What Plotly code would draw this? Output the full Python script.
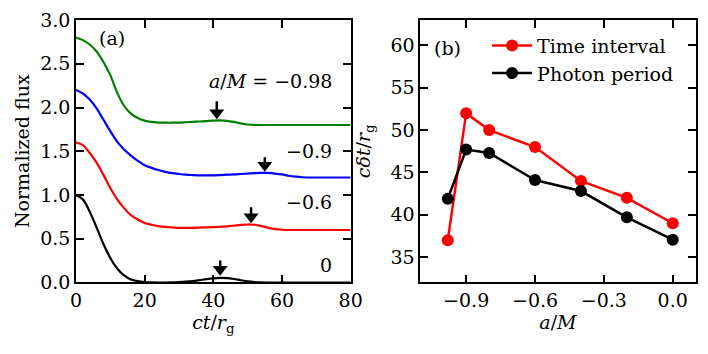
import plotly.graph_objects as go

# ---------------- data ----------------
t = [0, 2, 4, 6, 8, 10, 12, 14, 16, 18, 20, 22, 24, 26, 28, 30, 32, 34, 36, 38, 40,
     42, 44, 46, 48, 50, 52, 54, 56, 58, 60, 62, 64, 66, 68, 70, 72, 74, 76, 78, 80]

flux_a0 = [1.00, 0.95, 0.81, 0.63, 0.44, 0.28, 0.16, 0.08, 0.035, 0.015, 0.005, 0.001, 0.0, 0.0,
           0.002, 0.005, 0.010, 0.017, 0.027, 0.038, 0.047, 0.052, 0.050, 0.040, 0.026, 0.013,
           0.005, 0.001, 0.0, 0.0, 0.0, 0.0, 0.0, 0.0, 0.0, 0.0, 0.0, 0.0, 0.0, 0.0, 0.0]
flux_a06 = [1.60, 1.57, 1.48, 1.37, 1.23, 1.08, 0.95, 0.85, 0.77, 0.72, 0.68, 0.66, 0.645, 0.635,
            0.63, 0.625, 0.625, 0.625, 0.628, 0.63, 0.633, 0.637, 0.642, 0.650, 0.658, 0.663,
            0.660, 0.645, 0.625, 0.61, 0.603, 0.60, 0.60, 0.60, 0.60, 0.60, 0.60, 0.60, 0.60, 0.60, 0.60]
flux_a09 = [2.20, 2.16, 2.09, 1.99, 1.86, 1.73, 1.61, 1.52, 1.45, 1.39, 1.34, 1.31, 1.285, 1.265,
            1.25, 1.24, 1.232, 1.228, 1.225, 1.225, 1.225, 1.228, 1.232, 1.235, 1.24, 1.245,
            1.25, 1.253, 1.252, 1.245, 1.235, 1.22, 1.21, 1.203, 1.20, 1.20, 1.20, 1.20, 1.20, 1.20, 1.20]
flux_a098 = [2.80, 2.77, 2.72, 2.64, 2.52, 2.37, 2.17, 2.02, 1.93, 1.88, 1.85, 1.835, 1.828, 1.826,
             1.826, 1.828, 1.832, 1.836, 1.84, 1.845, 1.85, 1.852, 1.848, 1.835, 1.818, 1.806,
             1.801, 1.80, 1.80, 1.80, 1.80, 1.80, 1.80, 1.80, 1.80, 1.80, 1.80, 1.80, 1.80, 1.80, 1.80]

# arrows: x, head-centre y, tail y
arrow_x = [41, 55, 51, 42]
arrow_head = [1.94, 1.34, 0.75, 0.15]
arrow_tail = [2.07, 1.43, 0.86, 0.25]

curve_labels = ["<i>a</i>/<i>M</i> = \u22120.98", "\u22120.9", "\u22120.6", "0"]
curve_label_y = [2.30, 1.50, 0.92, 0.195]

spin = [-0.98, -0.9, -0.8, -0.6, -0.4, -0.2, 0.0]
time_interval = [37.0, 52.0, 50.0, 48.0, 44.0, 42.0, 39.0]
photon_period = [41.9, 47.7, 47.3, 44.1, 42.8, 39.7, 37.05]

left_yticks = [0.0, 0.5, 1.0, 1.5, 2.0, 2.5, 3.0]
left_xticks = [0, 20, 40, 60, 80]
right_xticks = [-0.9, -0.6, -0.3, 0.0]
right_xticktext = ["\u22120.9", "\u22120.6", "\u22120.3", "0.0"]
right_yticks = [35, 40, 45, 50, 55, 60]

FONT = "DejaVu Serif"
FS = 19

fig = go.Figure()

for y, c in [(flux_a0, "black"), (flux_a06, "red"), (flux_a09, "blue"), (flux_a098, "green")]:
    fig.add_trace(go.Scatter(x=t, y=y, mode="lines", line=dict(color=c, width=2.2, shape="spline"),
                             showlegend=False, xaxis="x", yaxis="y", hoverinfo="skip"))

# arrow stems and heads
stem_x, stem_y = [], []
for ax_, hd, tl in zip(arrow_x, arrow_head, arrow_tail):
    stem_x += [ax_, ax_, None]
    stem_y += [tl, hd, None]
fig.add_trace(go.Scatter(x=stem_x, y=stem_y, mode="lines", line=dict(color="black", width=2.5),
                         showlegend=False, xaxis="x", yaxis="y", hoverinfo="skip"))
fig.add_trace(go.Scatter(x=arrow_x, y=arrow_head, mode="markers",
                         marker=dict(symbol="triangle-down", size=13, color="black"),
                         showlegend=False, xaxis="x", yaxis="y", hoverinfo="skip"))

fig.add_trace(go.Scatter(x=spin, y=time_interval, mode="lines+markers", name="Time interval",
                         line=dict(color="red", width=2.5), marker=dict(color="red", size=12),
                         xaxis="x2", yaxis="y2"))
fig.add_trace(go.Scatter(x=spin, y=photon_period, mode="lines+markers", name="Photon period",
                         line=dict(color="black", width=2.5), marker=dict(color="black", size=12),
                         xaxis="x2", yaxis="y2"))

annotations = []
for lab, ly in zip(curve_labels, curve_label_y):
    annotations.append(dict(x=75, y=ly, xref="x", yref="y", text=lab, showarrow=False,
                            xanchor="right", yanchor="middle",
                            font=dict(family=FONT, size=FS, color="black")))
annotations.append(dict(x=6, y=2.80, xref="x", yref="y", text="(a)", showarrow=False,
                        xanchor="left", yanchor="middle", font=dict(family=FONT, size=FS, color="black")))
annotations.append(dict(x=-1.05, y=59.7, xref="x2", yref="y2", text="(b)", showarrow=False,
                        xanchor="left", yanchor="middle", font=dict(family=FONT, size=FS, color="black")))

axis_common = dict(showline=True, linecolor="black", linewidth=1.5, mirror="allticks",
                   ticks="inside", ticklen=8, tickwidth=1.5, tickcolor="black",
                   showgrid=False, zeroline=False, automargin=False,
                   tickfont=dict(family=FONT, size=FS, color="black"))

fig.update_layout(
    width=708, height=354,
    margin=dict(l=0, r=0, t=0, b=0),
    paper_bgcolor="white", plot_bgcolor="white",
    font=dict(family=FONT, size=FS, color="black"),
    xaxis=dict(domain=[0.1073, 0.4953], range=[0, 80], tickvals=left_xticks,
               title=dict(text="<i>ct</i>/<i>r</i><sub>g</sub>", standoff=6,
                          font=dict(family=FONT, size=FS)), anchor="y", **axis_common),
    yaxis=dict(domain=[0.202, 0.9435], range=[0, 3], tickvals=left_yticks, tickformat=".1f",
               title=dict(text="Normalized flux", standoff=6, font=dict(family=FONT, size=FS)),
               anchor="x", **axis_common),
    xaxis2=dict(domain=[0.5936, 0.9826], range=[-1.1, 0.1], tickvals=right_xticks,
                ticktext=right_xticktext,
                title=dict(text="<i>a</i>/<i>M</i>", standoff=6, font=dict(family=FONT, size=FS)),
                anchor="y2", **axis_common),
    yaxis2=dict(domain=[0.202, 0.9435], range=[32, 63], tickvals=right_yticks,
                title=dict(text="<i>c\u03b4t</i>/<i>r</i><sub>g</sub>", standoff=15,
                           font=dict(family=FONT, size=FS)),
                anchor="x2", **axis_common),
    legend=dict(x=0.688, y=0.925, xanchor="left", yanchor="top", bgcolor="rgba(0,0,0,0)",
                font=dict(family=FONT, size=FS, color="black"), tracegroupgap=0, itemwidth=40),
    annotations=annotations,
)

fig.write_html("out.html", config={"displayModeBar": False},
               post_script="document.body.style.margin='0';")
